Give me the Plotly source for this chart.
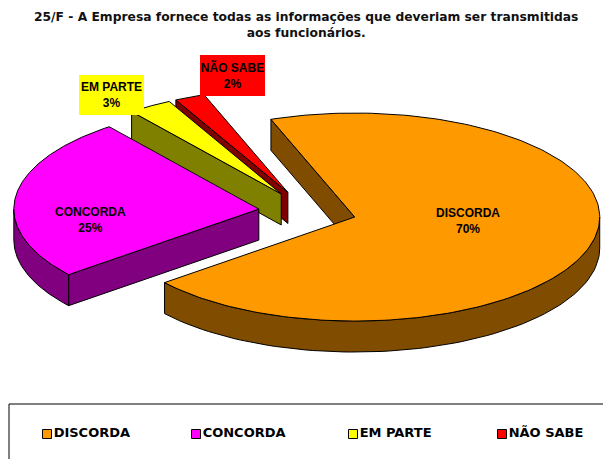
import numpy as np
import plotly.graph_objects as go

categories = ["DISCORDA", "CONCORDA", "EM PARTE", "NÃO SABE"]
values = [69.7, 25.4, 2.9, 2.0]
percent_labels = ["70%", "25%", "3%", "2%"]
top_colors = ["#FF9900", "#FF00FF", "#FFFF00", "#FF0000"]
side_colors = ["#7F4C00", "#800080", "#808000", "#800000"]
title_text = "25/F - A Empresa fornece todas as informações que deveriam ser transmitidas<br>aos funcionários."

W, H = 603, 459
CX, CY, RX, RY = 307.5, 211.5, 245, 104
DEPTH, EXPLODE, START = 31, 0.2, 340


def pt(cx, cy, deg, r=1.0):
    a = np.radians(deg)
    return cx + r * RX * np.sin(a), cy - r * RY * np.cos(a)


def poly(fig, xs, ys, color, name):
    fig.add_trace(go.Scatter(
        x=list(xs) + [xs[0]], y=list(ys) + [ys[0]], mode="lines", fill="toself", fillcolor=color,
        line=dict(color="black", width=1), hoverinfo="skip", showlegend=False, name=name))


fig = go.Figure()
total = sum(values)
spans = []
a = START
for v in values:
    spans.append((a, a + 360 * v / total))
    a += 360 * v / total

for i in [3, 2, 1, 0]:
    a0, a1 = spans[i]
    mid = (a0 + a1) / 2
    ax, ay = pt(CX, CY, mid, EXPLODE)
    name = categories[i]
    sx, sy = pt(ax, ay, a0)
    poly(fig, [ax, sx, sx, ax], [ay, sy, sy + DEPTH, ay + DEPTH], side_colors[i], name + " lado")
    for k in (0, 1):
        lo = max(a0, 90 + 360 * k)
        hi = min(a1, 270 + 360 * k)
        if hi > lo:
            th = np.linspace(lo, hi, 80)
            wx, wy = pt(ax, ay, th)
            poly(fig, list(wx) + list(wx[::-1]), list(wy) + list(wy[::-1] + DEPTH),
                 side_colors[i], name + " borda")
    th = np.linspace(a0, a1, 200)
    tx, ty = pt(ax, ay, th)
    poly(fig, [ax] + list(tx), [ay] + list(ty), top_colors[i], name)

label_font = dict(family="Liberation Sans", size=12, color="black")
label_spec = [
    (468, 221, None, None),
    (90, 220, None, None),
    (111.5, 94.5, 65, 40),
    (232.5, 75.5, 65, 41),
]
for i, (lx, ly, bw, bh) in enumerate(label_spec):
    kw = dict(width=bw, height=bh, bgcolor=top_colors[i]) if bw else {}
    fig.add_annotation(x=lx, y=ly, text=f"<b>{categories[i]}<br>{percent_labels[i]}</b>", showarrow=False,
                       font=label_font, xref="x", yref="y", xanchor="center", yanchor="middle",
                       borderpad=0, borderwidth=0, **kw)

fig.add_annotation(x=305.5, y=24.5, text=f"<b>{title_text}</b>", showarrow=False, xref="x", yref="y",
                   xanchor="center", yanchor="middle", align="center",
                   font=dict(family="DejaVu Sans", size=12.3, color="#111111"))

legend_x = [47, 196, 353, 502]
for i, name in enumerate(categories):
    fig.add_trace(go.Scatter(
        x=[legend_x[i]], y=[434], mode="markers+text", text=[f"<b>{name}</b>"], textposition="middle right",
        marker=dict(symbol="square", size=9, color=top_colors[i], line=dict(color="black", width=1)),
        textfont=dict(family="DejaVu Sans", size=13, color="black"),
        hoverinfo="skip", showlegend=False, name=name + " legenda"))

fig.update_layout(
    width=W, height=H, margin=dict(l=0, r=0, t=0, b=0), paper_bgcolor="white", plot_bgcolor="white",
    showlegend=False, autosize=False,
    xaxis=dict(range=[0, W], visible=False, fixedrange=True),
    yaxis=dict(range=[H, 0], visible=False, fixedrange=True),
    shapes=[dict(type="rect", xref="x", yref="y", x0=9, y0=404, x1=W + 40, y1=H + 40,
                 line=dict(color="black", width=1), fillcolor="rgba(0,0,0,0)", layer="below")],
)
fig.write_html("out.html", config=dict(displayModeBar=False),
               post_script="document.body.style.margin='0';document.body.style.overflow='hidden';")
